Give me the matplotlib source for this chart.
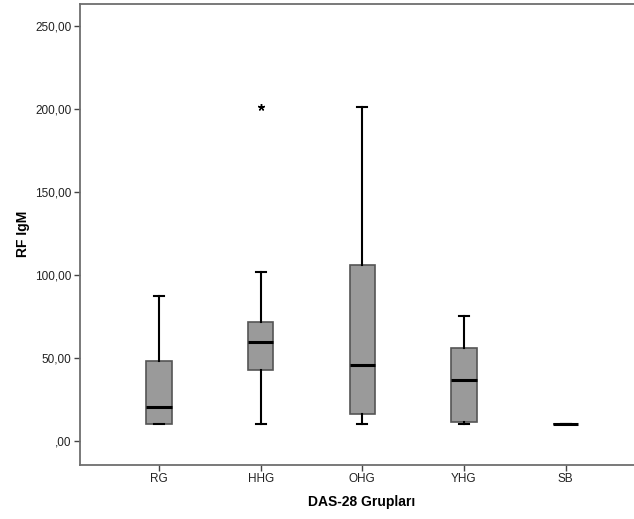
import numpy as np
import matplotlib
matplotlib.use('Agg')
import matplotlib.pyplot as plt

plt.rcParams['font.family'] = ['Liberation Sans', 'DejaVu Sans']

# box statistics per DAS-28 group
groups = ['RG', 'HHG', 'OHG', 'YHG', 'SB']
whislo = [10.0, 10.0, 10.0, 10.0, 10.0]
q1 = [10.0, 43.0, 16.0, 11.5, 10.0]
med = [20.5, 59.5, 45.8, 36.8, 10.0]
q3 = [48.0, 71.8, 106.0, 56.2, 10.0]
whishi = [87.5, 102.0, 201.0, 75.0, 10.0]
outliers = [[], [201.0], [], [], []]

stats = []
for i, g in enumerate(groups):
    stats.append({'label': g, 'whislo': whislo[i], 'q1': q1[i], 'med': med[i],
                  'q3': q3[i], 'whishi': whishi[i], 'fliers': outliers[i]})

fig = plt.figure(figsize=(6.34, 5.19), dpi=100)
# right edge runs past the picture like in the original export
ax = fig.add_axes([80 / 634, 54 / 519, 564 / 634, 461.5 / 519])

ax.bxp(stats, positions=range(1, 6), widths=0.25, patch_artist=True,
       boxprops=dict(facecolor='#9a9a9a', edgecolor='#555555', linewidth=1.2),
       medianprops=dict(color='black', linewidth=2.2),
       whiskerprops=dict(color='black', linewidth=1.5),
       capprops=dict(color='black', linewidth=1.5),
       capwidths=0.1,
       flierprops=dict(marker=(5, 2, 0), markersize=5, markeredgecolor='black',
                       markeredgewidth=1.0, linestyle='none'))

ax.set_xlim(0.223, 5.77)
ax.set_ylim(-14.5, 263.6)
ax.set_yticks([0, 50, 100, 150, 200, 250])
ax.set_yticklabels([',00', '50,00', '100,00', '150,00', '200,00', '250,00'])
ax.set_xticks(range(1, 6))
ax.set_xticklabels(groups)

for s in ['left', 'bottom', 'top']:
    ax.spines[s].set_color('#6e6e6e')
    ax.spines[s].set_linewidth(1.3)
ax.spines['right'].set_visible(False)
ax.tick_params(axis='both', direction='out', length=4, width=1, color='#444444',
               labelsize=8.5, labelcolor='#222222', pad=2)

ax.set_ylabel('RF IgM', fontsize=10, fontweight='bold', labelpad=4)
ax.set_xlabel('DAS-28 Grupları', fontsize=10, fontweight='bold', labelpad=7)

fig.savefig('out.png', dpi=100)
